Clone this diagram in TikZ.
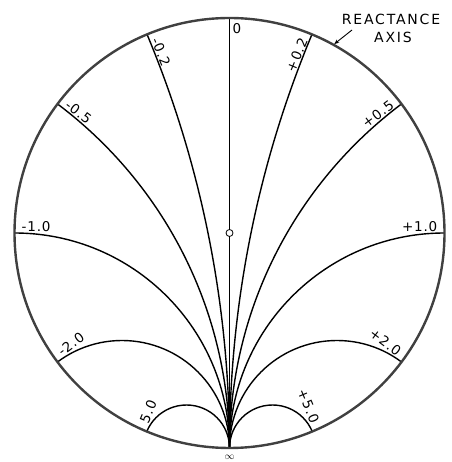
\documentclass[tikz,border=0pt]{standalone}
\usepackage{fontspec}
\usetikzlibrary{calc,arrows.meta}
\newfontfamily\labfont[LetterSpace=6]{DejaVu Sans}
\newfontfamily\capfont[LetterSpace=13]{DejaVu Sans}
\begin{document}
\begin{tikzpicture}[x=1pt,y=1pt,
  rim/.style={draw=black!75,line width=2.4pt},
  rarc/.style={draw=black,line width=1.4pt},
  lab/.style={font=\labfont\fontsize{13.5}{14}\selectfont,inner sep=1pt},
  caplab/.style={font=\capfont\fontsize{14}{15}\selectfont,inner sep=0pt}]
\useasboundingbox (0,0) rectangle (451,462);
\def\R{215}
\coordinate (O) at (229.5,229);
% reactance arcs
\begin{scope}
  \clip (O) circle (\R);
  \foreach \x in {0.2,0.5,1,2,5}{
    \draw[rarc,shift={(O)}] ({\R/\x},-\R) circle ({\R/\x});
    \draw[rarc,shift={(O)}] ({-\R/\x},-\R) circle ({\R/\x});
  }
\end{scope}
\coordinate (top) at ($(O)+(0,\R)$);
\coordinate (bot) at ($(O)+(0,-\R)$);
\draw[rarc] (top) -- (bot);
% rim
\draw[rim] (O) circle (\R);
% centre mark
\node[circle,draw,line width=0.8pt,fill=white,minimum size=7pt,inner sep=0pt] (ctr) at (O) {};
% labels, right side
\foreach \x/\t/\n in {0.2/+0.2/p1,0.5/+0.5/p2,1/+1.0/p3,2/+2.0/p4,5/+5.0/p5}{
  \pgfmathsetmacro\p{90-2*atan(\x)}
  \node[lab,anchor=south east,rotate=\p] (\n) at ($(O)+(\p:\R-6)$) {\t};
}
% labels, left side
\foreach \x/\t/\n in {0.2/-0.2/m1,0.5/-0.5/m2,1/-1.0/m3,2/-2.0/m4,5/5.0/m5}{
  \pgfmathsetmacro\p{90-2*atan(\x)}
  \pgfmathsetmacro\q{180-\p}
  \node[lab,anchor=south west,rotate=-\p] (\n) at ($(O)+(\q:\R-6)$) {\t};
}
\node[lab,anchor=north west] (zero) at ($(top)+(2,-4)$) {0};
% infinity
\node[inner sep=0pt] (inf) at (229.5,5) {\fontsize{10}{10}\selectfont$\infty$};
% reactance axis caption
\node[caplab] (cap1) at (391,443) {REACTANCE};
\node[caplab] (cap2) at (393,424.5) {AXIS};
\coordinate (atail) at (352,432);
\coordinate (ahead) at ($(O)+(61:\R+1)$);
\draw[line width=0.9pt,-{Stealth[length=5pt,width=4pt]}] (atail) -- (ahead);
\end{tikzpicture}
\end{document}
